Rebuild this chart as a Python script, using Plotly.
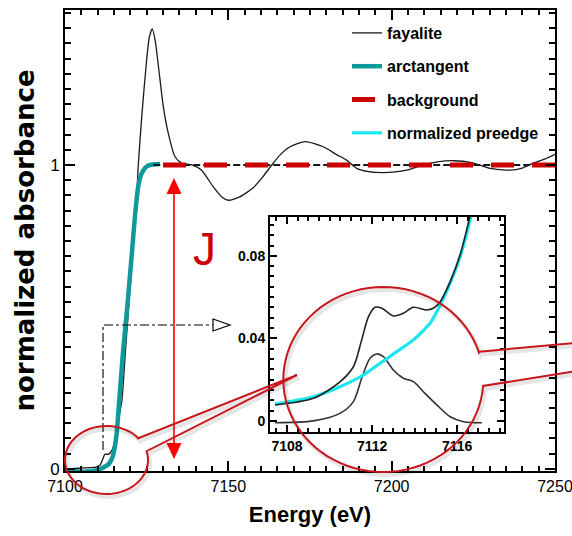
import numpy as np
import plotly.graph_objects as go

# ---------------- data ----------------
fay_E = [7100, 7102, 7104, 7106, 7108, 7109.5, 7110.7, 7111.5, 7112.2, 7113.3, 7114.3,
         7115.3, 7116.3, 7117.4, 7118.5, 7119.5, 7120.5, 7121.9, 7122.4, 7123.5, 7125.0,
         7125.8, 7126.7, 7127.6, 7128.6, 7130.1, 7131.6, 7133.7, 7135.7, 7138.8, 7141.8,
         7145.4, 7148, 7150, 7153.5, 7157.6, 7160.5, 7163.3, 7166, 7168.9, 7173.5, 7179.1,
         7183, 7186.2, 7189.3, 7193, 7197.4, 7201, 7204.6, 7209.7, 7214, 7218.9, 7224.5,
         7230.1, 7236.2, 7240, 7243.4, 7247, 7250]
fay_A = [0.0, 0.001, 0.002, 0.003, 0.004, 0.006, 0.012, 0.03, 0.048, 0.048, 0.06,
         0.092, 0.158, 0.224, 0.386, 0.533, 0.68, 0.885, 0.994, 1.16, 1.347,
         1.42, 1.448, 1.41, 1.325, 1.192, 1.105, 1.027, 1.006, 1.0, 0.983,
         0.928, 0.895, 0.884, 0.895, 0.925, 0.96, 1.0, 1.035, 1.06, 1.077, 1.06,
         1.035, 1.016, 0.989, 0.978, 0.975, 0.977, 0.983, 1.0, 1.01, 1.014, 1.008,
         0.989, 0.983, 0.99, 1.006, 1.02, 1.035]

atan_E = [7100, 7103, 7106.6, 7109, 7110.7, 7112, 7113.3, 7114.2, 7114.8, 7115.8, 7116.6,
          7117.8, 7118.9, 7120.4, 7121.4, 7122.4, 7123.2, 7124.0, 7125.0, 7126.0, 7129.1]
atan_A = [-0.004, -0.008, -0.009, -0.006, -0.001, 0.006, 0.015, 0.03, 0.048, 0.115, 0.224,
          0.39, 0.514, 0.70, 0.83, 0.928, 0.965, 0.983, 0.995, 1.0, 1.003]

bg_black_E = [7127, 7250]
bg_black_A = [1.0, 1.0]
bg_red_E = [7130, 7250]
bg_red_A = [1.0, 1.0]

# inset (pre-edge region)
pre_E = [7107.44, 7109.24, 7110.49, 7111.59, 7112.38, 7113.16, 7113.94, 7114.73, 7115.2,
         7115.67, 7116.14, 7116.61, 7116.8]
pre_A = [0.0082, 0.0118, 0.0166, 0.0223, 0.028, 0.0336, 0.0393, 0.0474, 0.0562,
         0.0668, 0.0797, 0.0975, 0.107]

ins_fay_E = [7107.44, 7109.24, 7110.49, 7111.12, 7111.51, 7111.83, 7112.14, 7112.46, 7113.0,
             7113.47, 7113.94, 7114.57, 7114.88, 7115.2, 7115.67, 7116.14, 7116.58, 7116.8]
ins_fay_A = [0.0078, 0.011, 0.019, 0.0263, 0.0393, 0.0506, 0.0551, 0.0546, 0.0509,
             0.0522, 0.0551, 0.0538, 0.0546, 0.0578, 0.0675, 0.0805, 0.0983, 0.108]

sub_E = [7107.44, 7109.24, 7110.49, 7111.12, 7111.51, 7111.9, 7112.22, 7112.53, 7113.0,
         7113.47, 7113.94, 7114.41, 7115.04, 7115.67, 7116.3, 7117.16]
sub_A = [-0.0008, 0.0001, 0.0037, 0.0094, 0.0207, 0.0304, 0.0325, 0.0312, 0.0247,
         0.0207, 0.0191, 0.0142, 0.0078, 0.0021, -0.0003, -0.0008]

main_xtick0, main_xdtick = 7100, 50
main_ytick0, main_ydtick = 0, 1
ins_xtick0, ins_xdtick = 7108, 4
ins_ytick0, ins_ydtick = 0, 0.04

# ---------------- layout geometry ----------------
W, H = 572, 536
ML, MR, MT, MB = 65, 17, 10, 65
PW, PH = W - ML - MR, H - MT - MB


def P(X, Y):
    return (X - ML) / PW, (H - MB - Y) / PH


def path(points, close=False):
    s = ""
    for i, (X, Y) in enumerate(points):
        px, py = P(X, Y)
        s += ("M" if i == 0 else "L") + f"{px:.5f},{py:.5f} "
    if close:
        s += "Z"
    return s


def arc(cx, cy, rx, ry, a0, a1, n=80):
    t = np.radians(np.linspace(a0, a1, n))
    return [(cx + rx * np.cos(a), cy - ry * np.sin(a)) for a in t]


fig = go.Figure()

BLACK = "#1a1a1a"
TEAL = "#0e9a9a"
DRED = "#cc0000"
CYAN = "#19e6f0"

XR = [7100, 7250]
YR = [-0.007, 1.51]
X2R = [7107.2, 7118.2]
Y2R = [-0.0053, 0.0988]

fig.add_trace(go.Scatter(x=fay_E, y=fay_A, mode="lines", name="fayalite",
                         line=dict(color=BLACK, width=1.3, shape="spline", smoothing=0.6),
                         legendrank=1, legendgroup="a"))
fig.add_trace(go.Scatter(x=atan_E, y=atan_A, mode="lines", name="arctangent",
                         line=dict(color=TEAL, width=4.5, shape="spline", smoothing=0.5),
                         legendrank=2, legendgroup="b"))
fig.add_trace(go.Scatter(x=bg_black_E, y=bg_black_A, mode="lines", name="bg",
                         line=dict(color=BLACK, width=2, dash="7px,3px"),
                         showlegend=False))
fig.add_trace(go.Scatter(x=bg_red_E, y=bg_red_A, mode="lines", name="background",
                         line=dict(color=DRED, width=5, dash="23px,18px"), legendrank=3,
                         legendgroup="c"))

fig.add_trace(go.Scatter(x=sub_E, y=sub_A, mode="lines", xaxis="x2", yaxis="y2",
                         line=dict(color="#333333", width=1.6, shape="spline", smoothing=0.8),
                         showlegend=False))
fig.add_trace(go.Scatter(x=pre_E, y=pre_A, mode="lines", xaxis="x2", yaxis="y2",
                         name="normalized preedge",
                         line=dict(color=CYAN, width=3.2, shape="spline", smoothing=0.6),
                         legendrank=4, legendgroup="d"))
fig.add_trace(go.Scatter(x=ins_fay_E, y=ins_fay_A, mode="lines", xaxis="x2", yaxis="y2",
                         line=dict(color="#222222", width=1.6, shape="spline", smoothing=0.8),
                         showlegend=False))

axis_common = dict(showgrid=False, zeroline=False, showline=True, linecolor="black",
                   linewidth=2, mirror="ticks", ticks="inside", tickcolor="black",
                   tickwidth=2)

main_xminor = dict(tick0=7100, dtick=5, ticklen=5, ticks="inside", tickcolor="black",
                   showgrid=False)
main_yminor = dict(tick0=0, dtick=0.05, ticklen=6, ticks="inside", tickcolor="black",
                   showgrid=False)
ins_xminor = dict(tick0=7108, dtick=0.5, ticklen=4, ticks="inside", tickcolor="black",
                  showgrid=False)
ins_yminor = dict(tick0=0, dtick=0.005, ticklen=4, ticks="inside", tickcolor="black",
                  showgrid=False)

x2dom = [P(270, 0)[0], P(504, 0)[0]]
y2dom = [P(0, 432)[1], P(0, 217)[1]]

fig.update_layout(
    template="none",
    width=W, height=H,
    margin=dict(l=ML, r=MR, t=MT, b=MB, autoexpand=False),
    paper_bgcolor="white", plot_bgcolor="white",
    xaxis=dict(range=XR, tick0=main_xtick0, dtick=main_xdtick, ticklen=10,
               minor=main_xminor, ticklabeloverflow="allow",
               tickfont=dict(family="Liberation Sans", size=16, color="black"),
               title=dict(text="Energy (eV)", standoff=12,
                          font=dict(family="Liberation Sans", size=22, color="black",
                                    weight="bold")),
               **axis_common),
    yaxis=dict(range=YR, tick0=main_ytick0, dtick=main_ydtick, ticklen=10,
               minor=main_yminor,
               tickfont=dict(family="Liberation Sans", size=17, color="black"),
               title=dict(text="normalized absorbance", standoff=8,
                          font=dict(family="DejaVu Sans", size=26, color="black",
                                    weight="bold")),
               **axis_common),
    xaxis2=dict(domain=x2dom, anchor="y2",
                range=X2R, tick0=ins_xtick0, dtick=ins_xdtick, ticklen=7,
                minor=ins_xminor,
                tickfont=dict(family="Liberation Sans", size=14, color="black",
                              weight="bold"),
                **axis_common),
    yaxis2=dict(domain=y2dom, anchor="x2",
                range=Y2R, tick0=ins_ytick0, dtick=ins_ydtick, ticklen=7,
                minor=ins_yminor,
                tickfont=dict(family="Liberation Sans", size=14, color="black",
                              weight="bold"),
                **axis_common),
    legend=dict(x=P(347, 0)[0], y=P(0, 16)[1], xanchor="left", yanchor="top",
                bgcolor="rgba(0,0,0,0)", tracegroupgap=9.5,
                font=dict(family="Liberation Sans", size=16, color="black",
                          weight="bold")),
    showlegend=True,
)

shapes = []
# dash-dot pointer arrow to the inset
shapes.append(dict(type="path", xref="paper", yref="paper",
                   path=path([(103, 450), (103, 325), (214, 325)]),
                   line=dict(color="black", width=1.1, dash="dashdot")))
shapes.append(dict(type="path", xref="paper", yref="paper",
                   path=path([(213, 319), (230, 325), (213, 331)], close=True),
                   line=dict(color="black", width=1.2), fillcolor="white"))

# red double-headed arrow (J)
shapes.append(dict(type="path", xref="paper", yref="paper",
                   path=path([(174, 190), (174, 446)]),
                   line=dict(color="#ff0000", width=1.6)))
shapes.append(dict(type="path", xref="paper", yref="paper",
                   path=path([(174, 178), (166.5, 194), (181.5, 194)], close=True),
                   line=dict(width=0), fillcolor="#ff0000"))
shapes.append(dict(type="path", xref="paper", yref="paper",
                   path=path([(174, 459), (166.5, 443), (181.5, 443)], close=True),
                   line=dict(width=0), fillcolor="#ff0000"))

# magnifier call-outs (small ellipse + big circle with tails)
small = [(297, 375), (138.3, 438.3)] + arc(106.5, 460, 41.5, 34, 40, 375) + [(297, 375)]
big = [(572, 343.3), (479.3, 351.7)] + arc(383.3, 379.5, 100, 92.5, 17, 356) + [(572, 371.7)]
for pts in (small, big):
    sh = [(x + 2, y + 3) for x, y in pts]
    shapes.append(dict(type="path", xref="paper", yref="paper", path=path(sh),
                       line=dict(color="rgba(0,0,0,0.10)", width=4)))
for pts in (small, big):
    shapes.append(dict(type="path", xref="paper", yref="paper", path=path(pts),
                       line=dict(color="#c8161d", width=2)))

fig.update_layout(shapes=shapes)

jx, jy = P(204, 249)
fig.add_annotation(x=jx, y=jy, xref="paper", yref="paper", text="J", showarrow=False,
                   xanchor="center", yanchor="middle",
                   font=dict(family="Liberation Sans", size=46, color="#cc0000"))

fig.write_html("out.html")
